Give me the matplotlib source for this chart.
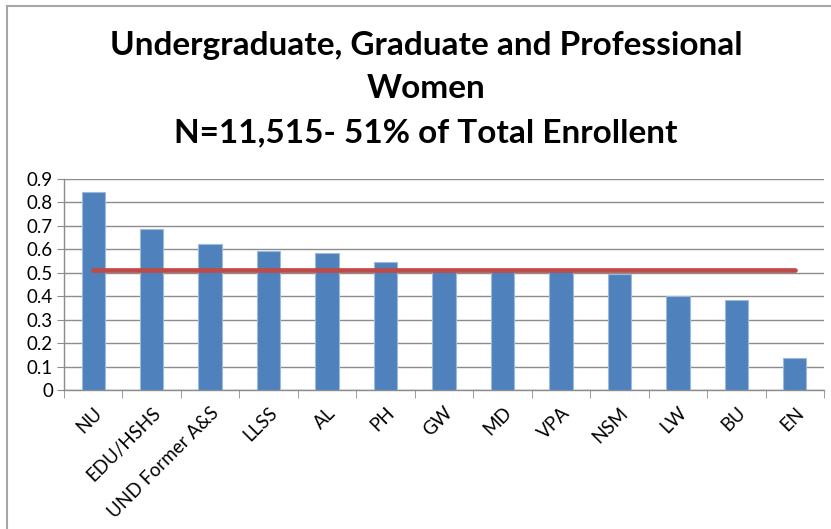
import numpy as np
import matplotlib.pyplot as plt
from matplotlib.patches import Rectangle

categories = ["NU", "EDU/HSHS", "UND Former A&S", "LLSS", "AL", "PH", "GW",
              "MD", "VPA", "NSM", "LW", "BU", "EN"]
women_share = [0.846, 0.688, 0.623, 0.595, 0.583, 0.546, 0.506,
               0.506, 0.506, 0.494, 0.402, 0.385, 0.137]
total_share = 0.51
yticks = [0, 0.1, 0.2, 0.3, 0.4, 0.5, 0.6, 0.7, 0.8, 0.9]

plt.rcParams['font.family'] = ['Lato', 'DejaVu Sans']

fig = plt.figure(figsize=(8.31, 5.29), dpi=100)
W, H = 831, 529
ax = fig.add_axes([64 / W, 1 - 390 / H, (824 - 64) / W, (390 - 179) / H])

x = np.arange(len(categories))
ax.bar(x, women_share, width=0.4, color="#4F81BD", edgecolor="#9DB9DB",
       linewidth=0.8, zorder=3)
ax.plot([x[0], x[-1]], [total_share, total_share], color="#BE4B48",
        linewidth=3.4, solid_capstyle="round", zorder=4)

ax.set_xlim(-0.5, len(categories) - 0.5)
ax.set_ylim(0, 0.9)
ax.set_yticks(yticks)
ax.set_yticklabels(["0" if v == 0 else f"{v:.1f}" for v in yticks], fontsize=13.5)
ax.yaxis.grid(True, color="#8C8C8C", linewidth=1.0, zorder=0)
ax.set_axisbelow(True)

ax.set_xticks(x)
ax.set_xticklabels(categories, rotation=45, ha="right", rotation_mode="anchor",
                   fontsize=13.5)
ax.set_xticks(np.arange(len(categories) + 1) - 0.5, minor=True)
ax.tick_params(axis="x", which="major", length=0, pad=10)
ax.tick_params(axis="x", which="minor", length=6, color="#8C8C8C", direction="out")
ax.tick_params(axis="y", length=5, color="#8C8C8C", direction="out", pad=3)

for side in ["top", "right"]:
    ax.spines[side].set_visible(False)
for side in ["left", "bottom"]:
    ax.spines[side].set_color("#8C8C8C")
    ax.spines[side].set_linewidth(1.0)

title_x = 426 / W
fig.text(title_x, 1 - 45 / H, "Undergraduate, Graduate and Professional",
         ha="center", va="center", fontsize=24, fontweight="bold")
fig.text(title_x, 1 - 89 / H, "Women", ha="center", va="center",
         fontsize=24, fontweight="bold")
fig.text(title_x, 1 - 133 / H, "N=11,515- 51% of Total Enrollent",
         ha="center", va="center", fontsize=24, fontweight="bold")

fig.patches.append(Rectangle((7 / W, -0.1), 1.2, 1 - 6 / H + 0.1,
                             transform=fig.transFigure, fill=False,
                             edgecolor="#A6A6A6", linewidth=1.5))

fig.savefig("out.png", dpi=100)
